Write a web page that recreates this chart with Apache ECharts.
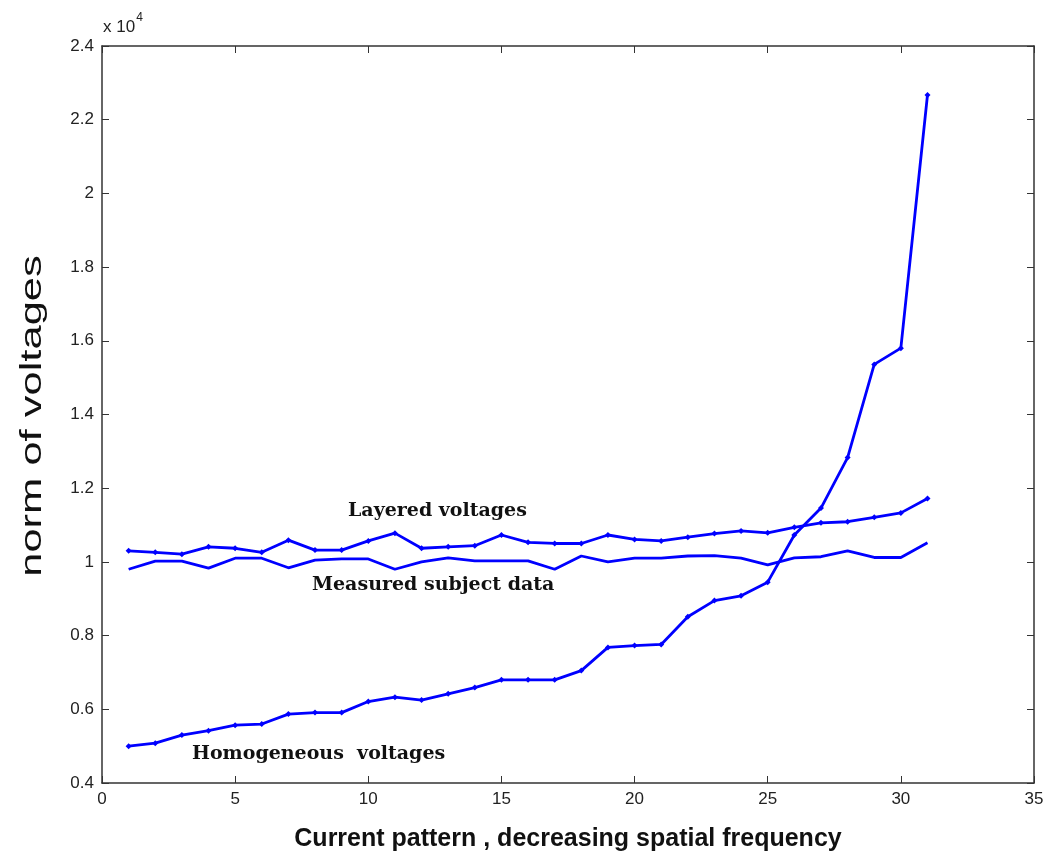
<!DOCTYPE html>
<html>
<head>
<meta charset="utf-8">
<script src="https://cdn.jsdelivr.net/npm/echarts@6/dist/echarts.min.js"></script>
<style>
  html, body { margin: 0; padding: 0; background: #fff; }
  #chart { width: 1050px; height: 866px; }
</style>
</head>
<body>
<div id="chart"></div>
<script>
// current pattern index (x axis)
const patterns = [1, 2, 3, 4, 5, 6, 7, 8, 9, 10, 11, 12, 13, 14, 15, 16,
  17, 18, 19, 20, 21, 22, 23, 24, 25, 26, 27, 28, 29, 30, 31]

// norm of voltages, in units of 10^4
const layered = [1.030, 1.026, 1.021, 1.041, 1.037, 1.026, 1.059, 1.032, 1.032, 1.057, 1.078,
  1.037, 1.041, 1.044, 1.073, 1.053, 1.050, 1.050, 1.073, 1.061, 1.057, 1.067, 1.077,
  1.084, 1.079, 1.094, 1.106, 1.109, 1.121, 1.133, 1.172]
const measured = [0.980, 1.002, 1.002, 0.983, 1.010, 1.010, 0.984, 1.005, 1.008, 1.008, 0.980,
  1.000, 1.011, 1.003, 1.003, 1.003, 0.980, 1.016, 1.000, 1.010, 1.010, 1.016, 1.017,
  1.010, 0.992, 1.011, 1.014, 1.030, 1.012, 1.012, 1.052]
const homogeneous = [0.500, 0.508, 0.530, 0.542, 0.557, 0.560, 0.587, 0.591, 0.591, 0.621, 0.633,
  0.625, 0.642, 0.659, 0.680, 0.680, 0.680, 0.705, 0.768, 0.773, 0.776, 0.851, 0.895,
  0.908, 0.945, 1.073, 1.146, 1.283, 1.536, 1.580, 2.267]

const chart = echarts.init(document.getElementById('chart'))

const pairs = vals => patterns.map((p, i) => [p, vals[i]])
const blue = '#0000ff'
const tickFont = { fontFamily: 'Liberation Sans', fontSize: 17, color: '#222' }
const serifLabel = { fontFamily: 'DejaVu Serif', fontWeight: 'bold', fontSize: 19, fill: '#111' }

const xBase = {
  type: 'value', min: 0, max: 35, interval: 5,
  axisLine: { show: true, onZero: false, lineStyle: { color: '#333', width: 1.5 } },
  axisTick: { show: true, inside: true, length: 7, lineStyle: { color: '#333' } },
  splitLine: { show: false }
}
const yBase = {
  type: 'value', min: 0.4, max: 2.4, interval: 0.2,
  axisLine: { show: true, onZero: false, lineStyle: { color: '#333', width: 1.5 } },
  axisTick: { show: true, inside: true, length: 7, lineStyle: { color: '#333' } },
  splitLine: { show: false }
}

chart.setOption({
  animation: false,
  grid: { left: 102, right: 16, top: 46, bottom: 83 },
  xAxis: [
    Object.assign({}, xBase, {
      position: 'bottom',
      axisLabel: Object.assign({ margin: 8 }, tickFont)
    }),
    Object.assign({}, xBase, { position: 'top', axisLabel: { show: false } })
  ],
  yAxis: [
    Object.assign({}, yBase, {
      position: 'left',
      axisLabel: Object.assign({ margin: 8, formatter: v => String(parseFloat(v.toFixed(1))) }, tickFont)
    }),
    Object.assign({}, yBase, { position: 'right', axisLabel: { show: false } })
  ],
  series: [
    {
      name: 'Layered voltages', type: 'line', data: pairs(layered),
      symbol: 'diamond', symbolSize: 6,
      lineStyle: { color: blue, width: 2.8 }, itemStyle: { color: blue }
    },
    {
      name: 'Measured subject data', type: 'line', data: pairs(measured),
      showSymbol: false, symbol: 'none',
      lineStyle: { color: blue, width: 2.8 }
    },
    {
      name: 'Homogeneous voltages', type: 'line', data: pairs(homogeneous),
      symbol: 'diamond', symbolSize: 6,
      lineStyle: { color: blue, width: 2.8 }, itemStyle: { color: blue }
    }
  ],
  graphic: [
    {
      type: 'text', left: 103, top: 12,
      style: {
        text: '{b|x 10}{s|4}',
        rich: {
          b: { fontFamily: 'Liberation Sans', fontSize: 17, fill: '#222', verticalAlign: 'bottom' },
          s: { fontFamily: 'Liberation Sans', fontSize: 12, fill: '#222', padding: [0, 0, 12, 1] }
        }
      }
    },
    {
      type: 'text', x: 33, y: 416, rotation: Math.PI / 2, scaleX: 1.45,
      style: {
        text: 'norm of voltages', fontFamily: 'Liberation Sans', fontSize: 30, fill: '#111',
        align: 'center', verticalAlign: 'middle', textAlign: 'center', textVerticalAlign: 'middle'
      }
    },
    {
      type: 'text', x: 568, y: 839,
      style: {
        text: 'Current pattern , decreasing spatial frequency', fontFamily: 'Liberation Sans',
        fontWeight: 'bold', fontSize: 25, fill: '#111',
        align: 'center', verticalAlign: 'middle', textAlign: 'center', textVerticalAlign: 'middle'
      }
    },
    { type: 'text', left: 348, top: 502, style: Object.assign({ text: 'Layered voltages' }, serifLabel) },
    { type: 'text', left: 312, top: 576, style: Object.assign({ text: 'Measured subject data' }, serifLabel) },
    { type: 'text', left: 192, top: 745, style: Object.assign({ text: 'Homogeneous  voltages' }, serifLabel) }
  ]
})
</script>
</body>
</html>
